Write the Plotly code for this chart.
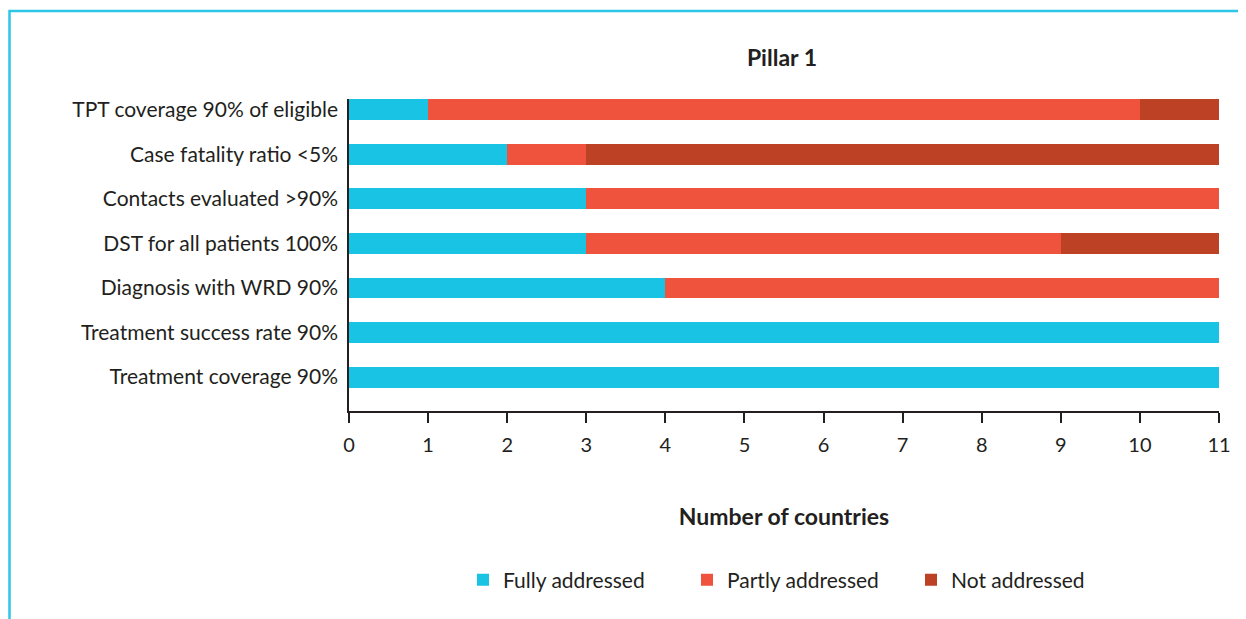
import plotly.graph_objects as go

categories = [
    "Treatment coverage 90%",
    "Treatment success rate 90%",
    "Diagnosis with WRD 90%",
    "DST for all patients 100%",
    "Contacts evaluated >90%",
    "Case fatality ratio <5%",
    "TPT coverage 90% of eligible",
]
fully = [11, 11, 4, 3, 3, 2, 1]
partly = [0, 0, 7, 6, 8, 1, 9]
not_addr = [0, 0, 0, 2, 0, 8, 1]
x_ticks = list(range(0, 12))

C_FULL = "#19C3E3"
C_PART = "#F0533D"
C_NOT = "#BC4125"
TXT = "#231F20"
FONT = "Lato"

fig = go.Figure()
for name, vals, col in [("Fully addressed", fully, C_FULL),
                        ("Partly addressed", partly, C_PART),
                        ("Not addressed", not_addr, C_NOT)]:
    fig.add_trace(go.Bar(y=categories, x=vals, name=name, orientation="h",
                         marker=dict(color=col, line=dict(width=0)),
                         hoverinfo="x+name"))

OFF = 8  # body margin of the page
W, H = 1246 - OFF, 619 - OFF
L = 349 - OFF
T = 99 - OFF
R = W - (1219 - OFF)
B = H - (411 - OFF)
pw, ph = W - L - R, H - T - B

def px(xpage):
    return (xpage - OFF - L) / pw

def py(ypage):
    return (H - B - (ypage - OFF)) / ph

fig.update_layout(
    width=W, height=H,
    margin=dict(l=L, r=R, t=T, b=B, autoexpand=False),
    barmode="stack", bargap=0.53,
    plot_bgcolor="white", paper_bgcolor="white",
    font=dict(family=FONT, size=21, color=TXT),
    title=dict(text="<b>Pillar 1</b>", x=px(782), xref="paper", xanchor="center",
               y=1 - (58 - OFF) / H, yanchor="middle", font=dict(size=23, color=TXT)),
    xaxis=dict(range=[0, 11], tickvals=x_ticks, showgrid=False, zeroline=False,
               showline=True, linecolor="#231F20", linewidth=1.5,
               ticks="outside", ticklen=10, tickcolor="#231F20", tickwidth=1.5,
               ticklabelstandoff=5,
               tickfont=dict(size=20, color=TXT),
               title=dict(text="<b>Number of countries</b>", standoff=54,
                          font=dict(size=23, color=TXT))),
    yaxis=dict(type="category", categoryorder="array", categoryarray=categories,
               range=[-0.76, 6.24], showgrid=False, zeroline=False,
               showline=True, linecolor="#231F20", linewidth=1.5,
               ticks="", ticklabelstandoff=5,
               tickfont=dict(size=21, color=TXT)),
    legend=dict(orientation="h", x=px(463), y=py(580), xanchor="left", yanchor="middle",
                font=dict(size=21, color=TXT), entrywidth=179, entrywidthmode="pixels",
                traceorder="normal"),
    showlegend=True,
)

# light-blue frame on the left and top
fig.add_shape(type="path", xref="paper", yref="paper",
              path=f"M {px(9.5)},{py(640)} L {px(9.5)},{py(11)} L {px(1260)},{py(11)}",
              line=dict(color="#2DC6E6", width=2.5))

fig.write_html("out.html")
